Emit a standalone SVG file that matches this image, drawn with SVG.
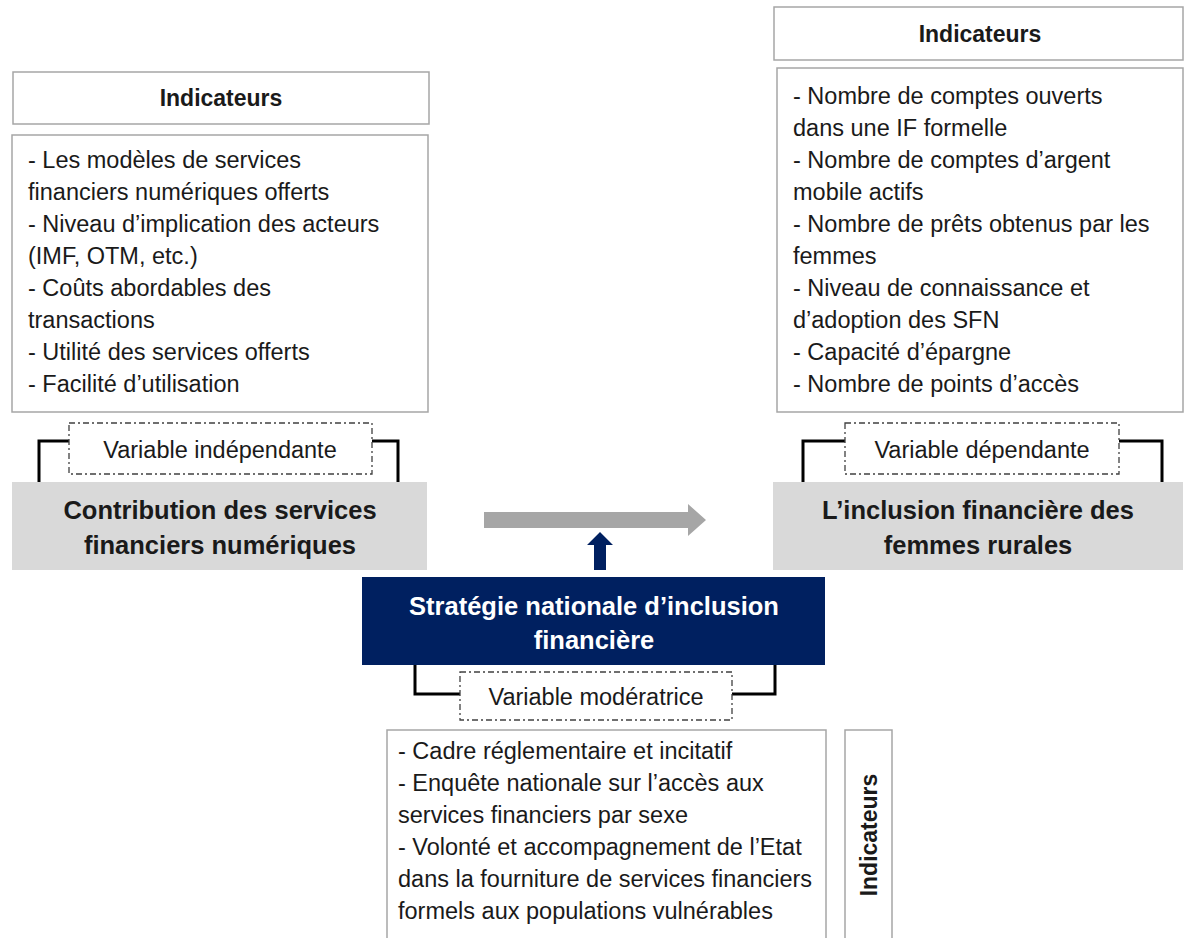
<svg xmlns="http://www.w3.org/2000/svg" width="1185" height="938" viewBox="0 0 1185 938">
<style>
.box{fill:#fff;stroke:#a6a6a6;stroke-width:1.5}
.dash{fill:#fff;stroke:#404040;stroke-width:1.3;stroke-dasharray:6 3 2 3}
.gray{fill:#d9d9d9}
.navy{fill:#002060}
.br{fill:none;stroke:#000;stroke-width:3}
text{font-family:"Liberation Sans",Arial,sans-serif;fill:#1a1a1a}
.body{font-size:23.5px}
.hd{font-size:23px;font-weight:bold;text-anchor:middle}
.big{font-size:25.5px;font-weight:bold;text-anchor:middle}
.var{font-size:23.5px;text-anchor:middle}
.white{fill:#fff}
</style>
<rect width="1185" height="938" fill="#fff"/>
<g id="ind-left-header">
<rect class="box" x="13" y="72" width="416" height="52"/>
<text class="hd" x="221" y="106">Indicateurs</text>
</g>
<g id="ind-left">
<rect class="box" x="12" y="135" width="416" height="277"/>
<text class="body" x="28" y="168">- Les modèles de services</text>
<text class="body" x="28" y="200">financiers numériques offerts</text>
<text class="body" x="28" y="232">- Niveau d’implication des acteurs</text>
<text class="body" x="28" y="264">(IMF, OTM, etc.)</text>
<text class="body" x="28" y="296">- Coûts abordables des</text>
<text class="body" x="28" y="328">transactions</text>
<text class="body" x="28" y="360">- Utilité des services offerts</text>
<text class="body" x="28" y="392">- Facilité d’utilisation</text>
</g>
<g id="ind-right-header">
<rect class="box" x="774" y="7" width="409" height="53"/>
<text class="hd" x="980" y="42">Indicateurs</text>
</g>
<g id="ind-right">
<rect class="box" x="777" y="68" width="406" height="344"/>
<text class="body" x="793" y="104">- Nombre de comptes ouverts</text>
<text class="body" x="793" y="136">dans une IF formelle</text>
<text class="body" x="793" y="168">- Nombre de comptes d’argent</text>
<text class="body" x="793" y="200">mobile actifs</text>
<text class="body" x="793" y="232">- Nombre de prêts obtenus par les</text>
<text class="body" x="793" y="264">femmes</text>
<text class="body" x="793" y="296">- Niveau de connaissance et</text>
<text class="body" x="793" y="328">d’adoption des SFN</text>
<text class="body" x="793" y="360">- Capacité d’épargne</text>
<text class="body" x="793" y="392">- Nombre de points d’accès</text>
</g>
<g id="var-indep">
<path class="br" d="M39,482 V441 H69 M372,441 H398 V482"/>
<rect class="dash" x="69" y="423" width="303" height="51"/>
<text class="var" x="220" y="458">Variable indépendante</text>
</g>
<g id="contribution">
<rect class="gray" x="12" y="482" width="415" height="88"/>
<text class="big" x="220" y="519">Contribution des services</text>
<text class="big" x="220" y="554">financiers numériques</text>
</g>
<g id="var-dep">
<path class="br" d="M803,482 V441 H845 M1119,441 H1162 V482"/>
<rect class="dash" x="845" y="423" width="274" height="51"/>
<text class="var" x="982" y="458">Variable dépendante</text>
</g>
<g id="inclusion">
<rect class="gray" x="773" y="482" width="410" height="88"/>
<text class="big" x="978" y="519">L’inclusion financière des</text>
<text class="big" x="978" y="554">femmes rurales</text>
</g>
<g id="connectors">
<polygon fill="#a6a6a6" points="484,512 688,512 688,504 706,520 688,536 688,528 484,528"/>
<polygon fill="#002060" points="594,570 594,545 587,545 600,532 613,545 606,545 606,570"/>
</g>
<g id="strategie">
<rect class="navy" x="362" y="577" width="463" height="88"/>
<text class="big white" x="594" y="615">Stratégie nationale d’inclusion</text>
<text class="big white" x="594" y="649">financière</text>
</g>
<g id="var-mod">
<path class="br" d="M415,665 V694 H460 M732,694 H775 V665"/>
<rect class="dash" x="460" y="672" width="272" height="48"/>
<text class="var" x="596" y="705">Variable modératrice</text>
</g>
<g id="ind-bottom">
<rect class="box" x="387" y="730" width="439" height="220"/>
<text class="body" x="398" y="759">- Cadre réglementaire et incitatif</text>
<text class="body" x="398" y="791">- Enquête nationale sur l’accès aux</text>
<text class="body" x="398" y="823">services financiers par sexe</text>
<text class="body" x="398" y="855">- Volonté et accompagnement de l’Etat</text>
<text class="body" x="398" y="887">dans la fourniture de services financiers</text>
<text class="body" x="398" y="919">formels aux populations vulnérables</text>
</g>
<g id="ind-bottom-label">
<rect class="box" x="845" y="730" width="47" height="220"/>
<text class="hd" transform="translate(877,835) rotate(-90)">Indicateurs</text>
</g>
</svg>
